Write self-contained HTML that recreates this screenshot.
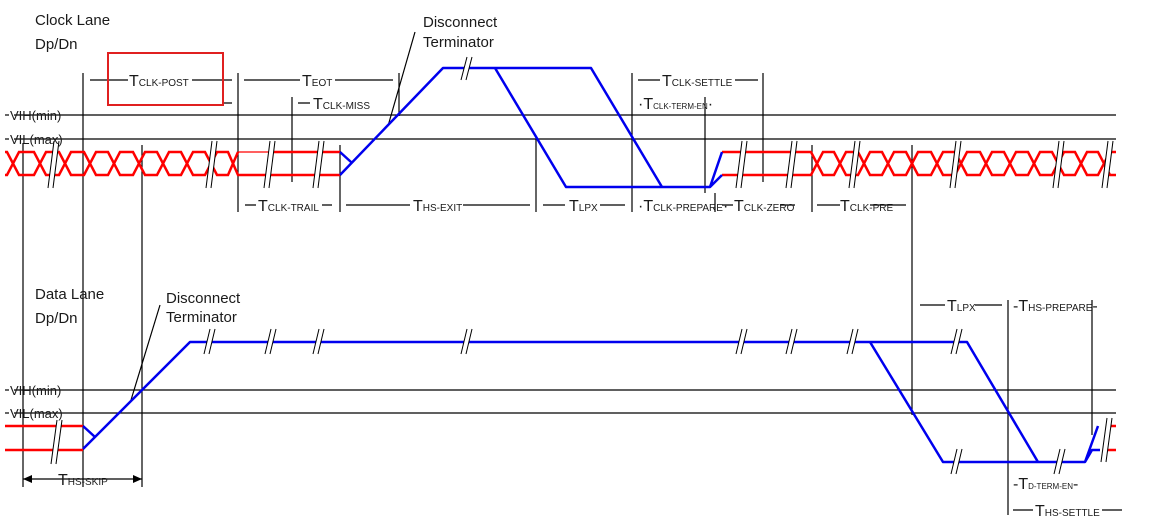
<!DOCTYPE html>
<html><head><meta charset="utf-8"><style>
body{margin:0;background:#fff}
svg{display:block}
text{font-family:"Liberation Sans",Arial,sans-serif;fill:#1a1a1a}
.t{font-size:16px}.s{font-size:10px}.ss{font-size:8px}
</style></head><body>
<svg width="1164" height="522" viewBox="0 0 1164 522" xmlns="http://www.w3.org/2000/svg">
<rect width="1164" height="522" fill="#fff"/>
<g stroke="#000" stroke-width="1.2" fill="none">
<!-- threshold lines -->
<line x1="14" y1="115" x2="1116" y2="115"/><line x1="14" y1="139" x2="1116" y2="139"/>
<line x1="14" y1="390" x2="1116" y2="390"/><line x1="14" y1="413" x2="1116" y2="413"/>
<line x1="5" y1="115" x2="9" y2="115"/><line x1="5" y1="139" x2="9" y2="139"/>
<line x1="5" y1="390" x2="9" y2="390"/><line x1="5" y1="413" x2="9" y2="413"/>
<!-- verticals -->
<line x1="23" y1="143" x2="23" y2="487"/>
<line x1="83" y1="73" x2="83" y2="487"/>
<line x1="142" y1="145" x2="142" y2="487"/>
<line x1="238" y1="73" x2="238" y2="212"/>
<line x1="292" y1="97" x2="292" y2="182"/>
<line x1="340" y1="145" x2="340" y2="212"/>
<line x1="399" y1="73" x2="399" y2="116"/>
<line x1="536" y1="139" x2="536" y2="212"/>
<line x1="632" y1="73" x2="632" y2="212"/>
<line x1="705" y1="97" x2="705" y2="193"/>
<line x1="715" y1="193" x2="715" y2="212"/>
<line x1="763" y1="73" x2="763" y2="182"/>
<line x1="812" y1="145" x2="812" y2="212"/>
<line x1="912" y1="145" x2="912" y2="415"/>
<line x1="1008" y1="300" x2="1008" y2="515"/>
<line x1="1092" y1="300" x2="1092" y2="435"/>
<!-- dimension dashes -->
<path d="M90 80H128M192 80H232M223 103H232M244 80H300M335 80H393M298 103H310M638 80H660M735 80H758"/>
<path d="M245 205H256M322 205H332M346 205H410M463 205H530M543 205H565M600 205H625M722 205H733M780 205H795M817 205H840M870 205H906"/>
<path d="M920 305H945M975 305H1002M1013 510H1033M1102 510H1122"/>
<path d="M23 479H142"/>
<!-- pointer lines -->
<line x1="415" y1="32" x2="388" y2="126"/>
<line x1="160" y1="305" x2="131" y2="400"/>
</g>
<path d="M23 479l9-4v8zM142 479l-9-4v8z" fill="#000"/>
<rect x="108" y="53" width="115" height="52" fill="none" stroke="#e02020" stroke-width="2"/>
<!-- clock red -->
<g stroke="#ff0000" stroke-width="2.5" fill="none">
<path d="M5 152L7 152L19 175L34 175L46 152L59 152L71 175L84 175L96 152L108 152L120 175L133 175L145 152L157 152L169 175L181 175L193 152L205 152L217 175L228 175L238 152"/>
<path d="M5 175L7 175L19 152L34 152L46 175L59 175L71 152L84 152L96 175L108 175L120 152L133 152L145 175L157 175L169 152L181 152L193 175L205 175L217 152L228 152L238 175L340 175"/>
<path d="M270 152H340"/>
<path d="M722 152L811 152L823 175L834 175L846 152L858 152L870 175L882 175L894 152L906 152L918 175L931 175L943 152L955 152L967 175L980 175L992 152L1004 152L1016 175L1028 175L1040 152L1052 152L1064 175L1075 175L1087 152L1098 152L1110 175L1116 175"/>
<path d="M722 175L811 175L823 152L834 152L846 175L858 175L870 152L882 152L894 175L906 175L918 152L931 152L943 175L955 175L967 152L980 152L992 175L1004 175L1016 152L1028 152L1040 175L1052 175L1064 152L1075 152L1087 175L1098 175L1110 152L1116 152"/>
<path d="M5 426H83M5 450H83M1106 426H1116M1106 450H1116"/>
</g>
<path d="M238 152H270" stroke="#ff0000" stroke-width="1.2"/>
<!-- blue -->
<g stroke="#0000ee" stroke-width="2.5" fill="none" stroke-linejoin="round">
<path d="M340 152L351 162M340 175L443 68H591L662 187H705L710 187L722 152M705 187L710 187L722 175M495 68L566 187H662"/>
<path d="M83 426L95 437M83 449L190 342H967L1038 462H1085L1098 426M1085 462L1092 450L1100 450M870 342L943 462H1040"/>
</g>
<!-- breaks -->
<g id="brk" stroke="#000" stroke-width="1">
<g transform="translate(52,0)"><polygon points="2,141 7,141 1,188 -4,188" fill="#fff" stroke="none"/><line x1="2" y1="141" x2="-4" y2="188"/><line x1="7" y1="141" x2="1" y2="188"/></g>
<g transform="translate(210,0)"><polygon points="2,141 7,141 1,188 -4,188" fill="#fff" stroke="none"/><line x1="2" y1="141" x2="-4" y2="188"/><line x1="7" y1="141" x2="1" y2="188"/></g>
<g transform="translate(268,0)"><polygon points="2,141 7,141 1,188 -4,188" fill="#fff" stroke="none"/><line x1="2" y1="141" x2="-4" y2="188"/><line x1="7" y1="141" x2="1" y2="188"/></g>
<g transform="translate(317,0)"><polygon points="2,141 7,141 1,188 -4,188" fill="#fff" stroke="none"/><line x1="2" y1="141" x2="-4" y2="188"/><line x1="7" y1="141" x2="1" y2="188"/></g>
<g transform="translate(740,0)"><polygon points="2,141 7,141 1,188 -4,188" fill="#fff" stroke="none"/><line x1="2" y1="141" x2="-4" y2="188"/><line x1="7" y1="141" x2="1" y2="188"/></g>
<g transform="translate(790,0)"><polygon points="2,141 7,141 1,188 -4,188" fill="#fff" stroke="none"/><line x1="2" y1="141" x2="-4" y2="188"/><line x1="7" y1="141" x2="1" y2="188"/></g>
<g transform="translate(853,0)"><polygon points="2,141 7,141 1,188 -4,188" fill="#fff" stroke="none"/><line x1="2" y1="141" x2="-4" y2="188"/><line x1="7" y1="141" x2="1" y2="188"/></g>
<g transform="translate(954,0)"><polygon points="2,141 7,141 1,188 -4,188" fill="#fff" stroke="none"/><line x1="2" y1="141" x2="-4" y2="188"/><line x1="7" y1="141" x2="1" y2="188"/></g>
<g transform="translate(1057,0)"><polygon points="2,141 7,141 1,188 -4,188" fill="#fff" stroke="none"/><line x1="2" y1="141" x2="-4" y2="188"/><line x1="7" y1="141" x2="1" y2="188"/></g>
<g transform="translate(1106,0)"><polygon points="2,141 7,141 1,188 -4,188" fill="#fff" stroke="none"/><line x1="2" y1="141" x2="-4" y2="188"/><line x1="7" y1="141" x2="1" y2="188"/></g>
<!-- blue top breaks -->
<g transform="translate(465,-72)"><polygon points="2,129 7,129 1,152 -4,152" fill="#fff" stroke="none"/><line x1="2" y1="129" x2="-4" y2="152"/><line x1="7" y1="129" x2="1" y2="152"/></g>
<!-- data breaks -->
<g transform="translate(55,282)"><polygon points="2,138 7,138 1,182 -4,182" fill="#fff" stroke="none"/><line x1="2" y1="138" x2="-4" y2="182"/><line x1="7" y1="138" x2="1" y2="182"/></g>
<g transform="translate(1105,280)"><polygon points="2,138 7,138 1,182 -4,182" fill="#fff" stroke="none"/><line x1="2" y1="138" x2="-4" y2="182"/><line x1="7" y1="138" x2="1" y2="182"/></g>
<g transform="translate(208,200)"><polygon points="2,129 7,129 1,154 -4,154" fill="#fff" stroke="none"/><line x1="2" y1="129" x2="-4" y2="154"/><line x1="7" y1="129" x2="1" y2="154"/></g>
<g transform="translate(269,200)"><polygon points="2,129 7,129 1,154 -4,154" fill="#fff" stroke="none"/><line x1="2" y1="129" x2="-4" y2="154"/><line x1="7" y1="129" x2="1" y2="154"/></g>
<g transform="translate(317,200)"><polygon points="2,129 7,129 1,154 -4,154" fill="#fff" stroke="none"/><line x1="2" y1="129" x2="-4" y2="154"/><line x1="7" y1="129" x2="1" y2="154"/></g>
<g transform="translate(465,200)"><polygon points="2,129 7,129 1,154 -4,154" fill="#fff" stroke="none"/><line x1="2" y1="129" x2="-4" y2="154"/><line x1="7" y1="129" x2="1" y2="154"/></g>
<g transform="translate(740,200)"><polygon points="2,129 7,129 1,154 -4,154" fill="#fff" stroke="none"/><line x1="2" y1="129" x2="-4" y2="154"/><line x1="7" y1="129" x2="1" y2="154"/></g>
<g transform="translate(790,200)"><polygon points="2,129 7,129 1,154 -4,154" fill="#fff" stroke="none"/><line x1="2" y1="129" x2="-4" y2="154"/><line x1="7" y1="129" x2="1" y2="154"/></g>
<g transform="translate(851,200)"><polygon points="2,129 7,129 1,154 -4,154" fill="#fff" stroke="none"/><line x1="2" y1="129" x2="-4" y2="154"/><line x1="7" y1="129" x2="1" y2="154"/></g>
<g transform="translate(955,200)"><polygon points="2,129 7,129 1,154 -4,154" fill="#fff" stroke="none"/><line x1="2" y1="129" x2="-4" y2="154"/><line x1="7" y1="129" x2="1" y2="154"/></g>
<g transform="translate(955,320)"><polygon points="2,129 7,129 1,154 -4,154" fill="#fff" stroke="none"/><line x1="2" y1="129" x2="-4" y2="154"/><line x1="7" y1="129" x2="1" y2="154"/></g>
<g transform="translate(1058,320)"><polygon points="2,129 7,129 1,154 -4,154" fill="#fff" stroke="none"/><line x1="2" y1="129" x2="-4" y2="154"/><line x1="7" y1="129" x2="1" y2="154"/></g>
</g>
<!-- labels -->
<text x="35" y="25" font-size="15">Clock Lane</text>
<text x="35" y="49" font-size="15">Dp/Dn</text>
<text x="35" y="299" font-size="15">Data Lane</text>
<text x="35" y="323" font-size="15">Dp/Dn</text>
<text x="423" y="27" font-size="15">Disconnect</text>
<text x="423" y="47" font-size="15">Terminator</text>
<text x="166" y="303" font-size="15">Disconnect</text>
<text x="166" y="322" font-size="15">Terminator</text>
<g font-size="13">
<text x="10" y="120">VIH(min)</text><text x="10" y="144">VIL(max)</text>
<text x="10" y="395">VIH(min)</text><text x="10" y="418">VIL(max)</text>
</g>
<text class="t" x="129" y="86">T<tspan class="s">CLK-POST</tspan></text>
<text class="t" x="302" y="86">T<tspan class="s">EOT</tspan></text>
<text class="t" x="313" y="109">T<tspan class="s">CLK-MISS</tspan></text>
<text class="t" x="662" y="86">T<tspan class="s">CLK-SETTLE</tspan></text>
<text class="t" x="638" y="109" font-size="11">·T<tspan class="ss">CLK-TERM-EN</tspan>·</text>
<text class="t" x="258" y="211">T<tspan class="s">CLK-TRAIL</tspan></text>
<text class="t" x="413" y="211">T<tspan class="s">HS-EXIT</tspan></text>
<text class="t" x="569" y="211">T<tspan class="s">LPX</tspan></text>
<text class="t" x="638" y="211" font-size="14">·T<tspan class="s">CLK-PREPARE</tspan>·</text>
<text class="t" x="734" y="211">T<tspan class="s">CLK-ZERO</tspan></text>
<text class="t" x="840" y="211">T<tspan class="s">CLK-PRE</tspan></text>
<text class="t" x="947" y="311">T<tspan class="s">LPX</tspan></text>
<text class="t" x="1013" y="311" font-size="14">-T<tspan class="s">HS-PREPARE</tspan>-</text>
<text class="t" x="1013" y="489" font-size="12">-T<tspan class="ss">D-TERM-EN</tspan>-</text>
<text class="t" x="1035" y="516">T<tspan class="s">HS-SETTLE</tspan></text>
<text class="t" x="58" y="485">T<tspan class="s">HS-SKIP</tspan></text>
</svg>
</body></html>
